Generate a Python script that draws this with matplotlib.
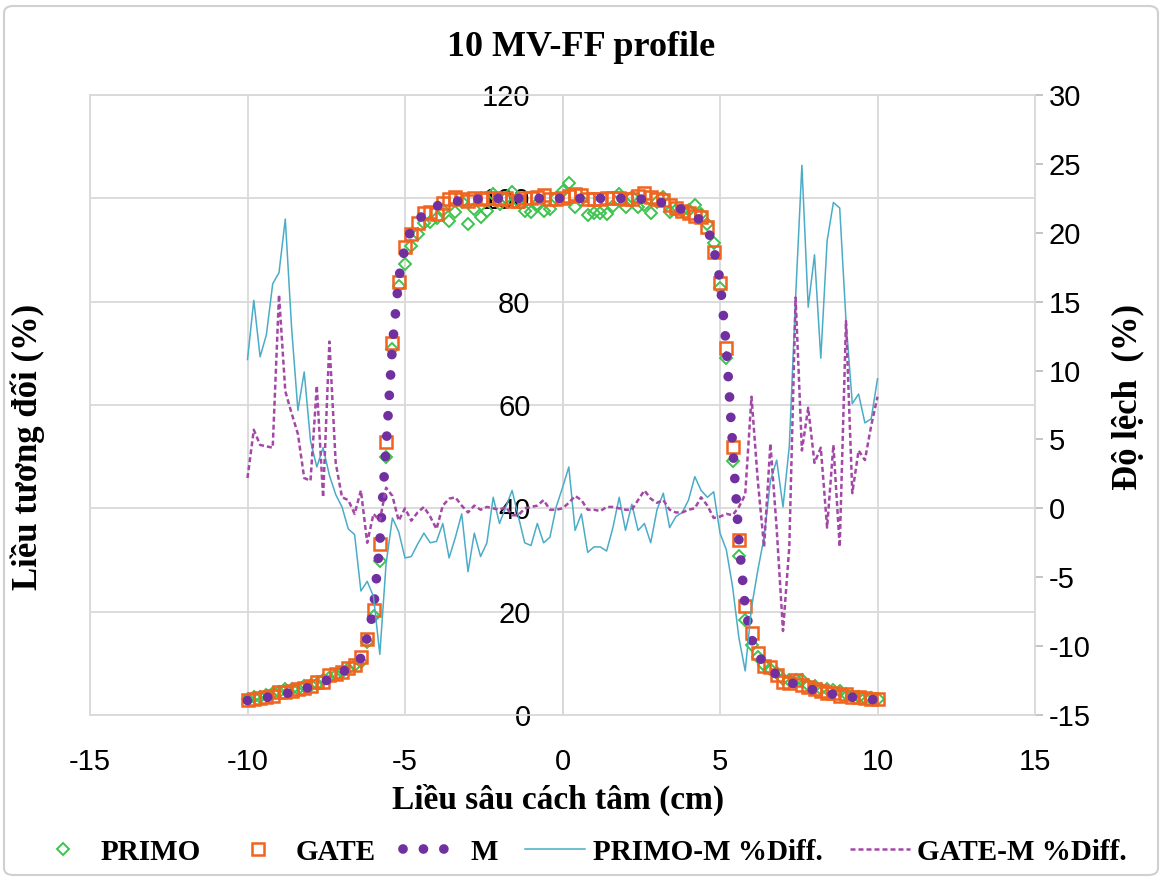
import matplotlib
matplotlib.use("Agg")
import matplotlib.pyplot as plt
from matplotlib.lines import Line2D
from matplotlib.patches import FancyBboxPatch

plt.rcParams["font.family"] = ["Liberation Sans", "DejaVu Sans"]
plt.rcParams["axes.unicode_minus"] = False

# Off-axis position (cm), 0.2 cm sampling
x_cm = [-10.0, -9.8, -9.6, -9.4, -9.2, -9.0, -8.8, -8.6, -8.4, -8.2,
        -8.0, -7.8, -7.6, -7.4, -7.2, -7.0, -6.8, -6.6, -6.4, -6.2,
        -6.0, -5.8, -5.6, -5.4, -5.2, -5.0, -4.8, -4.6, -4.4, -4.2,
        -4.0, -3.8, -3.6, -3.4, -3.2, -3.0, -2.8, -2.6, -2.4, -2.2,
        -2.0, -1.8, -1.6, -1.4, -1.2, -1.0, -0.8, -0.6, -0.4, -0.2,
        0.0, 0.2, 0.4, 0.6, 0.8, 1.0, 1.2, 1.4, 1.6, 1.8,
        2.0, 2.2, 2.4, 2.6, 2.8, 3.0, 3.2, 3.4, 3.6, 3.8,
        4.0, 4.2, 4.4, 4.6, 4.8, 5.0, 5.2, 5.4, 5.6, 5.8,
        6.0, 6.2, 6.4, 6.6, 6.8, 7.0, 7.2, 7.4, 7.6, 7.8,
        8.0, 8.2, 8.4, 8.6, 8.8, 9.0, 9.2, 9.4, 9.6, 9.8, 10.0]

# Relative dose (%) - PRIMO simulation
primo = [3.10, 3.45, 3.55, 3.83, 4.19, 4.51, 4.96, 4.98, 5.03, 5.55,
         5.72, 6.08, 6.68, 7.12, 7.68, 8.31, 8.87, 9.61, 10.34, 14.21,
         19.09, 29.86, 49.92, 70.90, 83.06, 87.34, 90.71, 93.11, 95.25, 95.45,
         96.14, 97.81, 95.63, 97.31, 99.20, 95.11, 98.00, 96.40, 97.50, 100.80,
         98.90, 100.10, 101.30, 99.40, 97.50, 97.30, 98.90, 97.50, 97.90, 100.10,
         101.50, 103.00, 98.40, 99.60, 96.80, 97.20, 97.20, 96.90, 98.60, 100.80,
         98.40, 100.20, 98.30, 98.70, 97.11, 99.30, 100.19, 97.42, 97.81, 97.51,
         97.78, 98.72, 96.94, 95.05, 91.38, 82.68, 69.16, 49.22, 30.71, 18.35,
         13.64, 11.27, 9.59, 8.98, 8.07, 7.01, 6.69, 6.80, 6.87, 5.84,
         5.68, 4.99, 5.07, 4.89, 4.63, 4.09, 3.71, 3.57, 3.35, 3.20, 3.17]

# Relative dose (%) - GATE simulation
gate = [2.86, 3.17, 3.35, 3.55, 3.76, 4.45, 4.45, 4.70, 4.95, 5.16,
        5.56, 6.43, 6.45, 7.79, 7.85, 8.37, 9.05, 9.76, 11.14, 14.63,
        20.32, 33.10, 52.78, 72.04, 83.74, 90.60, 93.15, 95.31, 97.10, 97.31,
        97.02, 99.10, 99.89, 100.20, 99.80, 99.40, 100.00, 99.80, 100.10, 100.00,
        99.90, 100.10, 99.50, 99.50, 100.00, 100.10, 100.20, 100.60, 99.90, 99.90,
        100.00, 100.40, 100.90, 100.60, 99.90, 99.90, 99.80, 100.10, 100.10, 100.00,
        99.90, 99.80, 100.50, 101.10, 100.30, 99.80, 99.69, 98.70, 98.10, 97.51,
        97.10, 96.50, 96.47, 94.49, 89.67, 83.69, 71.01, 51.94, 33.93, 21.01,
        15.89, 12.04, 9.53, 9.21, 7.68, 6.38, 6.22, 6.80, 5.73, 5.47,
        4.96, 4.70, 4.19, 4.18, 3.69, 4.09, 3.49, 3.44, 3.26, 3.18, 3.13]

# Relative dose (%) - measurement
measured = [2.80, 3.00, 3.20, 3.40, 3.60, 3.85, 4.10, 4.40, 4.70, 5.05,
            5.45, 5.90, 6.40, 6.95, 7.60, 8.30, 9.00, 9.80, 11.0, 15.0,
            20.4, 33.4, 52.0, 71.4, 84.5, 90.6, 94.0, 95.6, 97.0, 97.9,
            98.5, 98.9, 99.2, 99.4, 99.6, 99.7, 99.8, 99.9, 100.0, 100.0,
            100.0, 100.0, 100.0, 100.0, 100.0, 100.0, 100.0, 100.0, 100.0, 100.0,
            100.0, 100.0, 100.0, 100.0, 100.0, 100.0, 100.0, 100.0, 100.0, 100.0,
            100.0, 99.9, 99.9, 99.8, 99.6, 99.4, 99.1, 98.8, 98.4, 97.8,
            97.2, 96.5, 95.7, 94.3, 90.3, 84.2, 71.3, 52.2, 33.9, 20.8,
            14.7, 11.8, 9.8, 8.8, 7.8, 7.0, 6.4, 5.9, 5.5, 5.1,
            4.8, 4.5, 4.25, 4.0, 3.8, 3.6, 3.45, 3.3, 3.15, 3.0, 2.9]

# Deviation from measurement (%)
primo_diff = [10.8, 15.1, 11.0, 12.6, 16.3, 17.1, 21.0, 13.1, 7.1, 9.9,
              4.9, 3.0, 4.4, 2.4, 1.0, 0.1, -1.5, -1.9, -6.0, -5.3,
              -6.4, -10.6, -4.0, -0.7, -1.7, -3.6, -3.5, -2.6, -1.8, -2.5,
              -2.4, -1.1, -3.6, -2.1, -0.4, -4.6, -1.8, -3.5, -2.5, 0.8,
              -1.1, 0.1, 1.3, -0.6, -2.5, -2.7, -1.1, -2.5, -2.1, 0.1,
              1.5, 3.0, -1.6, -0.4, -3.2, -2.8, -2.8, -3.1, -1.4, 0.8,
              -1.6, 0.3, -1.6, -1.1, -2.5, -0.1, 1.1, -1.4, -0.6, -0.3,
              0.6, 2.3, 1.3, 0.8, 1.2, -1.8, -3.0, -5.7, -9.4, -11.8,
              -7.2, -4.5, -2.1, 2.0, 3.5, 0.1, 4.5, 15.3, 24.9, 14.6,
              18.4, 10.9, 19.4, 22.2, 21.8, 13.6, 7.6, 8.3, 6.2, 6.5, 9.4]

gate_diff = [2.2, 5.7, 4.6, 4.5, 4.4, 15.5, 8.5, 6.9, 5.4, 2.2,
             2.0, 8.9, 0.8, 12.1, 3.3, 0.8, 0.6, -0.4, 1.3, -2.5,
             -0.4, -0.9, 1.5, 0.9, -0.9, 0.0, -0.9, -0.3, 0.1, -0.6,
             -1.5, 0.2, 0.7, 0.8, 0.2, -0.3, 0.2, -0.1, 0.1, 0.0,
             -0.1, 0.1, -0.5, -0.5, 0.0, 0.1, 0.2, 0.6, -0.1, -0.1,
             0.0, 0.4, 0.9, 0.6, -0.1, -0.1, -0.2, 0.1, 0.1, 0.0,
             -0.1, -0.1, 0.6, 1.3, 0.7, 0.4, 0.6, -0.1, -0.3, -0.3,
             -0.1, 0.0, 0.8, 0.2, -0.7, -0.6, -0.4, -0.5, 0.1, 1.0,
             8.1, 2.0, -2.8, 4.7, -1.5, -8.9, -2.8, 15.3, 4.2, 7.3,
             3.3, 4.4, -1.4, 4.6, -2.8, 13.6, 1.1, 4.2, 3.5, 6.0, 8.1]

x_ticks = [-15, -10, -5, 0, 5, 10, 15]
dose_ticks = [0, 20, 40, 60, 80, 100, 120]
diff_ticks = [-15, -10, -5, 0, 5, 10, 15, 20, 25, 30]

series_labels = ["PRIMO", "GATE", "M", "PRIMO-M %Diff.", "GATE-M %Diff."]

GREEN = "#3CC44E"
ORANGE = "#F0641E"
PURPLE = "#7030A0"
BLUE = "#4BACC6"
MAGENTA = "#A448A8"
GRID = "#D9D9D9"

M_STYLE = dict(color=PURPLE, lw=7.0, ls=(0, (0.001, 2.1)), dash_capstyle="round")
DASH_STYLE = dict(color=MAGENTA, lw=1.8, ls=(0, (2.0, 1.2)))

W, H = 1163, 880
fig = plt.figure(figsize=(W / 100, H / 100), dpi=100)
ax = fig.add_axes([90 / W, 1 - 715 / H, (1035 - 90) / W, (715 - 95) / H])
ax2 = ax.twinx()

serif_bold = dict(family=["Liberation Serif", "DejaVu Serif"], weight="bold")

# Primary axis: dose profiles
ax.set_xlim(-15, 15)
ax.set_ylim(0, 120)
ax.set_xticks(x_ticks)
ax.set_yticks(dose_ticks)
ax.grid(True, color=GRID, lw=1.3)
ax.set_axisbelow(True)
for side in ["top", "bottom"]:
    ax.spines[side].set_color(GRID)
    ax.spines[side].set_linewidth(1.3)
ax.spines["right"].set_visible(False)
ax.spines["left"].set_position(("data", 0))
ax.spines["left"].set_color(GRID)
ax.spines["left"].set_linewidth(1.3)
ax.axvline(-15, color=GRID, lw=1.3, clip_on=False, zorder=0)
ax.tick_params(axis="y", length=0, pad=23, labelsize=21)
ax.tick_params(axis="x", length=0, pad=24, labelsize=21)

ax.plot(x_cm, primo, ls="none", marker="D", ms=6, mfc="none", mec=GREEN,
        mew=1.4, zorder=3)
ax.plot(x_cm, gate, ls="none", marker="s", ms=8.5, mfc="none", mec=ORANGE,
        mew=1.8, zorder=4)
ax.plot(x_cm, measured, zorder=5, **M_STYLE)

# Secondary axis: percentage deviations
ax2.set_ylim(-15, 30)
ax2.set_yticks(diff_ticks)
for side in ["top", "bottom", "left"]:
    ax2.spines[side].set_visible(False)
ax2.spines["right"].set_color(GRID)
ax2.spines["right"].set_linewidth(1.3)
ax2.tick_params(axis="y", length=6, width=1.3, color="#BFBFBF", pad=4,
                labelsize=21)
ax2.plot(x_cm, primo_diff, color=BLUE, lw=1.1, zorder=6)
ax2.plot(x_cm, gate_diff, zorder=7, **DASH_STYLE)

# Titles and axis labels
fig.text(0.5, 1 - 47 / H, "10 MV-FF profile", ha="center", va="center",
         fontsize=26, **serif_bold)
fig.text(558 / W, 1 - 800 / H, "Liều sâu cách tâm (cm)", ha="center",
         va="center", fontsize=24, **serif_bold)
fig.text(28 / W, 1 - 447 / H, "Liều tương đối (%)", ha="center", va="center",
         rotation=90, fontsize=25, **serif_bold)
fig.text(1128 / W, 1 - 397 / H, "Độ lệch  (%)", ha="center", va="center",
         rotation=90, fontsize=25, **serif_bold)

# Legend
handles = [
    Line2D([], [], ls="none", marker="D", ms=6, mfc="none", mec=GREEN, mew=1.4),
    Line2D([], [], ls="none", marker="s", ms=8.5, mfc="none", mec=ORANGE, mew=1.8),
    Line2D([], [], **M_STYLE),
    Line2D([], [], color=BLUE, lw=1.1),
    Line2D([], [], **DASH_STYLE),
]
fig.legend(handles, series_labels, loc="center",
           bbox_to_anchor=(580 / W, 1 - 852 / H), ncol=5, frameon=False,
           prop=dict(family=["Liberation Serif", "DejaVu Serif"],
                     weight="bold", size=21),
           handlelength=2.05, handletextpad=0.25, columnspacing=0.95)

# Chart border
fig.patches.append(FancyBboxPatch((4 / W, 5 / H), 1 - 9 / W, 1 - 11 / H,
                                  boxstyle="round,pad=0,rounding_size=0.008",
                                  transform=fig.transFigure, fc="none",
                                  ec="#D0D0D0", lw=1.5))

fig.savefig("out.png", dpi=100)
